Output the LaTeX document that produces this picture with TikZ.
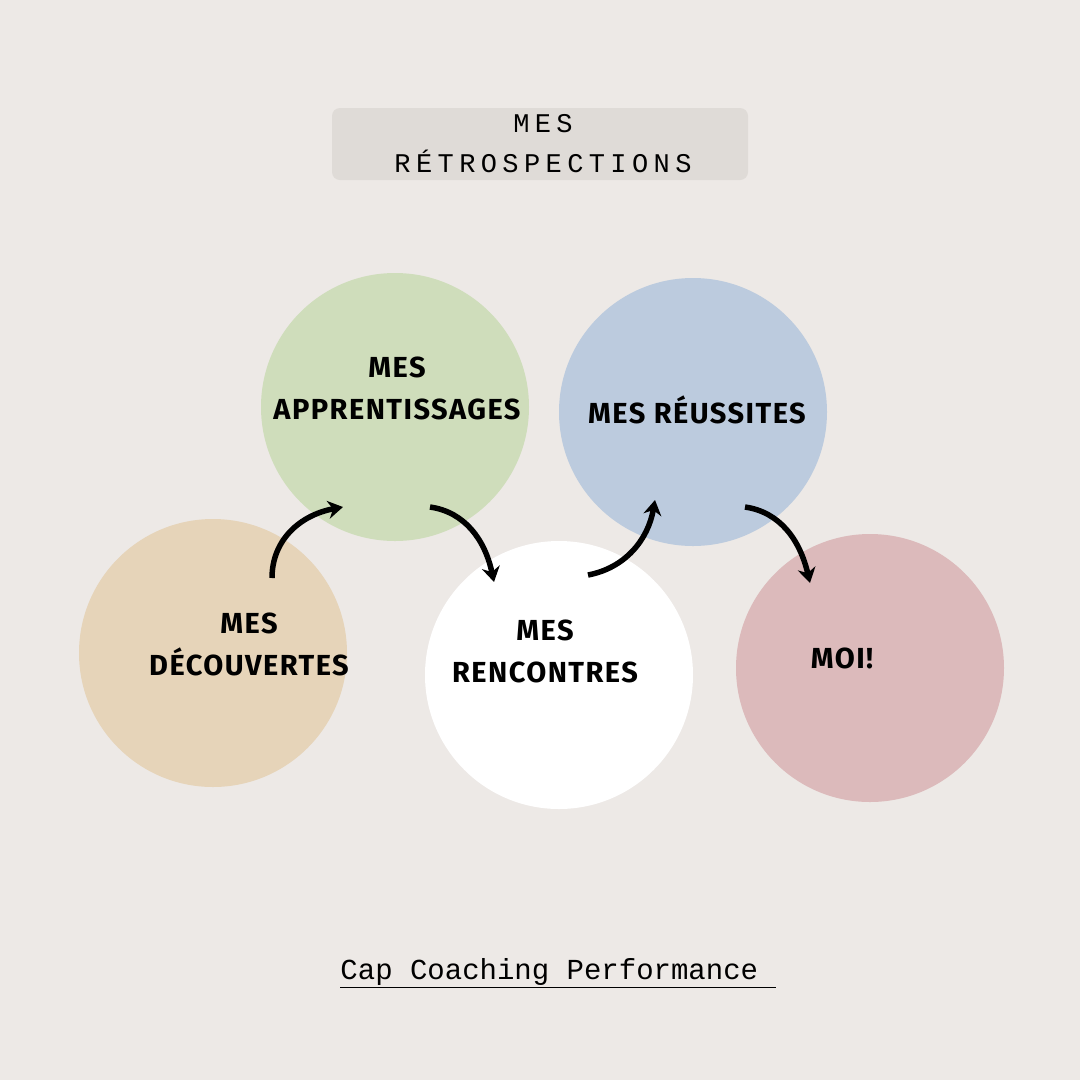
\documentclass[tikz,border=0pt]{standalone}
\usepackage{fontspec}
\setmainfont{Fira Sans}[LetterSpace=5]
\newfontfamily\monof{Liberation Mono}
\newfontfamily\monot{Liberation Mono}[LetterSpace=20]
\usetikzlibrary{arrows.meta}
\definecolor{bg}{HTML}{EDE9E6}
\definecolor{boxc}{HTML}{DFDBD7}
\definecolor{cgreen}{HTML}{CFDDBB}
\definecolor{cblue}{HTML}{BCCBDE}
\definecolor{ctan}{HTML}{E6D4B9}
\definecolor{cpink}{HTML}{DCBABB}
\begin{document}
\begin{tikzpicture}[x=1pt,y=-1pt,
  circ/.style={circle,minimum size=268pt,inner sep=0pt},
  lab/.style={font=\fontsize{29}{42}\selectfont\bfseries,align=center},
  arr/.style={line width=5.5pt,-{Stealth[length=15pt,width=18pt]}}]
\fill[bg] (0,0) rectangle (1080,1080);
\useasboundingbox (0,0) rectangle (1080,1080);
\node[fill=boxc,rounded corners=8pt,minimum width=416pt,minimum height=72pt] (title) at (540,144) {};
\node[font=\monot\fontsize{27}{40}\selectfont,align=center] (tt) at (543,144) {MES\\RÉTROSPECTIONS};
\node[circ,fill=cgreen] (a) at (395,407) {};
\node[circ,fill=cblue] (r) at (693,412) {};
\node[circ,fill=ctan] (d) at (213,653) {};
\node[circ,fill=white] (n) at (559,675) {};
\node[circ,fill=cpink] (m) at (870,668) {};
\node[lab] at (397,388) {MES\\APPRENTISSAGES};
\node[lab] at (697,410) {MES RÉUSSITES};
\node[lab] at (249,644) {MES\\DÉCOUVERTES};
\node[lab] at (545,651) {MES\\RENCONTRES};
\node[lab] at (842,658) {MOI!};
\coordinate (s1) at (272,578); \coordinate (e1) at (343,507);
\coordinate (s2) at (430,507); \coordinate (e2) at (494,582);
\coordinate (s3) at (588,575); \coordinate (e3) at (655,500);
\coordinate (s4) at (745,507); \coordinate (e4) at (810,583);
\draw[arr] (s1) .. controls (272,540) and (300,515) .. (e1);
\draw[arr] (s2) .. controls (465,512) and (485,540) .. (e2);
\draw[arr] (s3) .. controls (625,568) and (648,540) .. (e3);
\draw[arr] (s4) .. controls (780,512) and (800,540) .. (e4);
\node[font=\monof\fontsize{29}{32}\selectfont] (f) at (558,973) {\underline{Cap Coaching Performance }};
\end{tikzpicture}
\end{document}
